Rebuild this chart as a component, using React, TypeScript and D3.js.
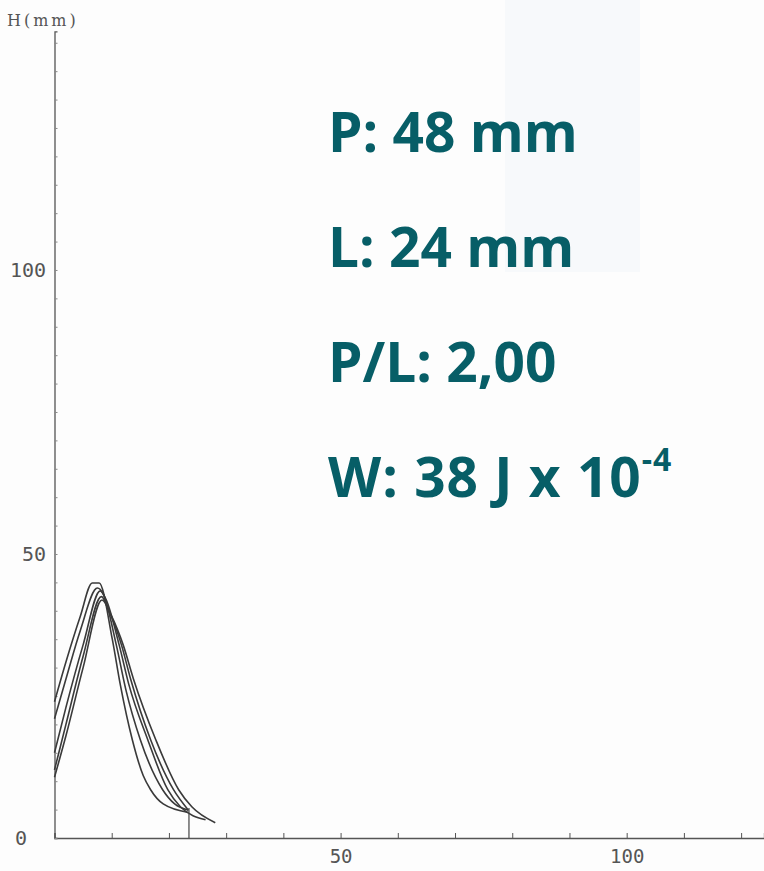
import React, { useRef, useEffect } from 'react';
import * as d3 from 'd3';

// alveograph curves, x = length (mm), H = height (mm)
const curve1 = [[0, 24], [2, 31], [4.5, 39], [6.6, 44.9], [7.8, 44.9], [10.1, 35], [11.5, 27], [13.6, 17.3], [15.5, 11], [16.8, 8.5], [19, 6], [23.4, 4.5]];
const curve2 = [[0, 21], [2, 28], [4.5, 36.5], [7.5, 44], [8.5, 43], [10.8, 34], [12.5, 26], [15, 17.3], [18.9, 8.5], [21, 6], [23.4, 4.9]];
const curve3 = [[0, 15], [2, 23], [5, 34], [8, 43.5], [9, 42], [11.3, 34], [13, 27], [16.3, 17.3], [19.8, 8.5], [22, 5.5], [26.4, 3.2]];
const curve4 = [[0, 12], [2, 20], [5, 32], [8.2, 42.5], [9.5, 40], [11.7, 34], [13.3, 28], [16.8, 17.3], [20.8, 8.5], [23.4, 4.9]];
const curve5 = [[0, 10.7], [2, 18], [5, 30], [8.3, 41.9], [10, 39], [12, 34], [13.8, 28], [17.7, 17.3], [21.7, 8.5], [24, 5.5], [28.1, 2.7]];
const curves = [curve1, curve2, curve3, curve4, curve5];

const lMarker = 23.5;
const lMarkerHeight = 5.3;

const xTicks = d3.range(0, 130, 10);
const yTicks = d3.range(0, 145, 5);
const xLabels = [50, 100];
const yLabels = [0, 50, 100];

const results = ['P: 48 mm', 'L: 24 mm', 'P/L: 2,00'];
const wLabel = 'W: 38 J x 10';
const wExp = '-4';

const App = () => {
  const svgRef = useRef();
  useEffect(() => {
    const svg = d3.select(svgRef.current);
    svg.selectAll('*').remove();

    const x = d3.scaleLinear().domain([0, 124]).range([54.5, 764]);
    const y = d3.scaleLinear().domain([0, 142]).range([838, 31.4]);

    svg.append('rect').attr('width', 764).attr('height', 871).attr('fill', '#fdfdfd');
    svg.append('rect').attr('x', 505).attr('y', 0).attr('width', 135).attr('height', 272)
      .attr('fill', '#f4f7fa').attr('opacity', 0.6);

    const xAxis = svg.append('g')
      .attr('transform', `translate(0,${y(0)})`)
      .call(d3.axisBottom(x).tickValues(xTicks).tickSize(-5).tickPadding(12)
        .tickFormat(d => xLabels.includes(d) ? String(d) : ''));
    xAxis.select('.domain').attr('stroke', '#555').attr('stroke-width', 1.3);
    xAxis.selectAll('line').attr('stroke', '#555');
    xAxis.selectAll('text').attr('fill', '#555').style('font-family', 'DejaVu Sans Mono').style('font-size', '19px');

    const yAxis = svg.append('g')
      .attr('transform', `translate(${x(0)},0)`)
      .call(d3.axisRight(y).tickValues(yTicks).tickSize(3).tickFormat(''));
    yAxis.select('.domain').attr('stroke', '#555').attr('stroke-width', 1.3);
    yAxis.selectAll('line').attr('stroke', '#888');

    svg.selectAll('.ylab')
      .data(yLabels)
      .join('text')
        .attr('class', 'ylab')
        .attr('x', d => d === 0 ? 27 : 46)
        .attr('y', d => y(d))
        .attr('dy', '0.36em')
        .attr('text-anchor', 'end')
        .attr('fill', '#555')
        .style('font-family', 'DejaVu Sans Mono')
        .style('font-size', '20px')
        .text(d => d);

    svg.append('text')
      .attr('x', 7).attr('y', 26)
      .attr('fill', '#555')
      .style('font-family', 'DejaVu Serif')
      .style('font-size', '16px')
      .style('letter-spacing', '3px')
      .text('H(mm)');

    const line = d3.line().x(d => x(d[0])).y(d => y(d[1])).curve(d3.curveMonotoneX);
    svg.selectAll('.curve')
      .data(curves)
      .join('path')
        .attr('class', 'curve')
        .attr('d', line)
        .attr('fill', 'none')
        .attr('stroke', '#3a3a3a')
        .attr('stroke-width', 1.6);

    svg.append('line')
      .attr('x1', x(lMarker)).attr('x2', x(lMarker))
      .attr('y1', y(0)).attr('y2', y(lMarkerHeight))
      .attr('stroke', '#444').attr('stroke-width', 1.2);

    svg.selectAll('.res')
      .data(results)
      .join('text')
        .attr('class', 'res')
        .attr('x', 328)
        .attr('y', (d, i) => 152 + i * 115)
        .attr('fill', '#075e67')
        .style('font-family', 'Open Sans')
        .style('font-weight', 700)
        .style('font-size', '55px')
        .text(d => d);

    const w = svg.append('text')
      .attr('x', 328).attr('y', 497)
      .attr('fill', '#075e67')
      .style('font-family', 'Open Sans')
      .style('font-weight', 700)
      .style('font-size', '55px')
      .style('letter-spacing', '1px');
    w.append('tspan').text(wLabel);
    w.append('tspan').attr('dy', -26).style('font-size', '32px').text(wExp);
  }, []);

  return (
    <svg ref={svgRef} width={764} height={871} style={{ position: 'absolute', left: 0, top: 0 }}>
    </svg>
  );
};

export default App;
